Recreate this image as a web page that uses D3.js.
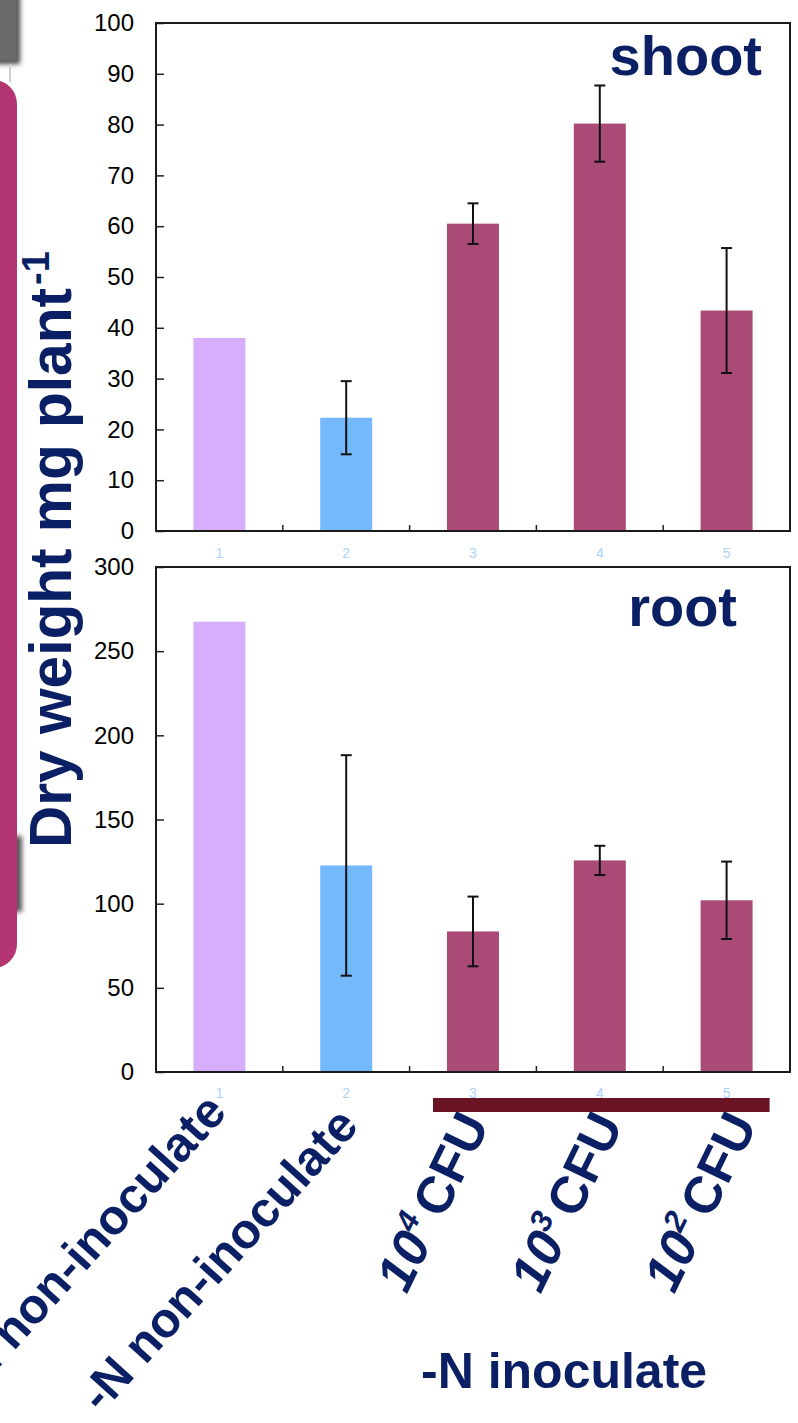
<!DOCTYPE html>
<html><head><meta charset="utf-8">
<script src="https://cdn.jsdelivr.net/npm/d3@7"></script>
<style>html,body{margin:0;padding:0;background:#fff;} svg{display:block;}</style>
</head><body>
<svg id="chart" width="798" height="1423"></svg>
<script>
// ---------------- data ----------------
const categories = ["1", "2", "3", "4", "5"];
const treatmentLabels = ["+N non-inoculate", "-N non-inoculate"];
const cfuExponents = ["4", "3", "2"];
const groupLabel = "-N inoculate";
const yTitle = "Dry weight mg plant";
const yTitleSup = "-1";

const shootValues = [38.0, 22.3, 60.5, 80.2, 43.4];
const shootErrors = [null, 7.2, 4.0, 7.5, 12.3];
const rootValues  = [267.5, 122.7, 83.5, 125.7, 102.0];
const rootErrors  = [null, 65.5, 20.7, 8.7, 23.0];

const shootTicks = [0, 10, 20, 30, 40, 50, 60, 70, 80, 90, 100];
const rootTicks  = [0, 50, 100, 150, 200, 250, 300];

// ---------------- styling ----------------
const NAVY = "#0b1f64";
const barColor = i => i === 0 ? "#d7aefd" : (i === 1 ? "#75b9fd" : "#aa4a77");
const FONT = "'Liberation Sans', Arial, sans-serif";

const svg = d3.select("#chart");
const defs = svg.append("defs");
const f = defs.append("filter").attr("id", "shadow").attr("x", "-50%").attr("y", "-50%").attr("width", "200%").attr("height", "200%");
f.append("feGaussianBlur").attr("stdDeviation", 2.5);
const f2 = defs.append("filter").attr("id", "soft");
f2.append("feGaussianBlur").attr("stdDeviation", 0.8);

// decorations on the left edge
svg.append("rect").attr("x", 6).attr("y", 836).attr("width", 16).attr("height", 76)
  .attr("fill", "#555").attr("filter", "url(#shadow)");
svg.append("rect").attr("x", -6).attr("y", -8).attr("width", 26).attr("height", 72)
  .attr("fill", "#444").attr("filter", "url(#shadow)");
svg.append("rect").attr("x", -6).attr("y", -8).attr("width", 23).attr("height", 69)
  .attr("fill", "#6a6a6a").attr("filter", "url(#soft)");
svg.append("line").attr("x1", 10).attr("x2", 10).attr("y1", 64).attr("y2", 82)
  .attr("stroke", "#cfcfcf").attr("stroke-width", 2);
svg.append("rect").attr("x", -30).attr("y", 80).attr("width", 47).attr("height", 888)
  .attr("rx", 24).attr("fill", "#b23571");

// ---------------- scales ----------------
const x = d3.scaleBand().domain(categories).range([156, 790])
  .paddingInner(0.59).paddingOuter(0.295);
const cx = c => x(c) + x.bandwidth() / 2;

function panel(cfg) {
  const y = d3.scaleLinear().domain([0, cfg.max]).range([cfg.bottom, cfg.top]);
  const g = svg.append("g");

  // bars
  g.selectAll("rect.bar").data(cfg.values).join("rect")
    .attr("class", "bar")
    .attr("x", (d, i) => x(categories[i]))
    .attr("width", x.bandwidth())
    .attr("y", d => y(d))
    .attr("height", d => y(0) - y(d))
    .attr("fill", (d, i) => barColor(i));

  // error bars
  const eb = cfg.values.map((v, i) => ({v, e: cfg.errors[i], c: categories[i]})).filter(d => d.e != null);
  const eg = g.selectAll("g.err").data(eb).join("g").attr("class", "err")
    .attr("stroke", "#111").attr("stroke-width", 2);
  eg.append("line").attr("x1", d => cx(d.c)).attr("x2", d => cx(d.c))
    .attr("y1", d => y(d.v + d.e)).attr("y2", d => y(d.v - d.e));
  eg.append("line").attr("x1", d => cx(d.c) - 5.5).attr("x2", d => cx(d.c) + 5.5)
    .attr("y1", d => y(d.v + d.e)).attr("y2", d => y(d.v + d.e));
  eg.append("line").attr("x1", d => cx(d.c) - 5.5).attr("x2", d => cx(d.c) + 5.5)
    .attr("y1", d => y(d.v - d.e)).attr("y2", d => y(d.v - d.e));

  // y axis (inward ticks)
  const ax = g.append("g").attr("transform", "translate(156,0)")
    .call(d3.axisLeft(y).tickValues(cfg.ticks).tickSize(-8).tickPadding(22));
  ax.select(".domain").remove();
  ax.selectAll(".tick line").attr("stroke", "#222").attr("stroke-width", 1.5);
  ax.selectAll(".tick text").attr("fill", "#000").attr("font-size", 24)
    .attr("font-family", FONT);

  // category separator ticks (inward)
  const seps = categories.slice(1).map(c => x(c) - x.step() * x.paddingInner() / 2);
  g.selectAll("line.sep").data(seps).join("line").attr("class", "sep")
    .attr("x1", d => d).attr("x2", d => d)
    .attr("y1", cfg.bottom).attr("y2", cfg.bottom - 6)
    .attr("stroke", "#222").attr("stroke-width", 1.5);

  // frame
  g.append("rect").attr("x", 156).attr("y", cfg.top)
    .attr("width", 634).attr("height", cfg.bottom - cfg.top)
    .attr("fill", "none").attr("stroke", "#1a1a1a").attr("stroke-width", 2);

  // small category numbers
  g.selectAll("text.num").data(categories).join("text").attr("class", "num")
    .attr("x", d => cx(d)).attr("y", cfg.numY)
    .attr("text-anchor", "middle").attr("font-size", 14).attr("font-family", FONT)
    .attr("fill", "#a9d3ff").text(d => d);

  // panel title
  g.append("text").attr("x", cfg.titleX).attr("y", cfg.titleY)
    .attr("text-anchor", "end").attr("font-size", 56).attr("font-weight", "bold")
    .attr("font-family", FONT).attr("fill", NAVY).text(cfg.title);
}

panel({top: 23, bottom: 531, max: 100, ticks: shootTicks, values: shootValues,
       errors: shootErrors, numY: 558, title: "shoot", titleX: 762, titleY: 75});
panel({top: 567, bottom: 1072, max: 300, ticks: rootTicks, values: rootValues,
       errors: rootErrors, numY: 1098, title: "root", titleX: 737, titleY: 626});

// y axis title
const yt = svg.append("g").attr("transform", "translate(71,848) rotate(-90)");
yt.append("text").attr("x", 0).attr("y", 0)
  .attr("font-size", 60).attr("font-weight", "bold").attr("font-family", FONT)
  .attr("fill", NAVY).attr("textLength", 560).attr("lengthAdjust", "spacingAndGlyphs")
  .text(yTitle);
yt.append("text").attr("x", 563).attr("y", -22)
  .attr("font-size", 38).attr("font-weight", "bold").attr("font-family", FONT)
  .attr("fill", NAVY).text(yTitleSup);

// red bracket bar under inoculated groups
const barL = x(categories[2]) - 14;
const barR = x(categories[4]) + x.bandwidth() + 17;
svg.append("rect").attr("x", barL).attr("y", 1098)
  .attr("width", barR - barL).attr("height", 14)
  .attr("fill", "#6a1322");

// rotated treatment labels
treatmentLabels.forEach((t, i) => {
  svg.append("text")
    .attr("transform", `translate(${cx(categories[i]) + 9 + 5 * i},${1113 + 14 * i}) rotate(-48)`)
    .attr("text-anchor", "end").attr("font-size", 49).attr("font-weight", "bold")
    .attr("font-family", FONT).attr("fill", NAVY).text(t);
});

// CFU labels
cfuExponents.forEach((e, i) => {
  const t = svg.append("text")
    .attr("transform", `translate(${cx(categories[i + 2]) + 17 + 7 * i},1124) rotate(-64)`)
    .attr("text-anchor", "end").attr("font-size", 52).attr("font-weight", "bold")
    .attr("font-family", FONT).attr("fill", NAVY);
  t.append("tspan").attr("font-style", "italic").text("10");
  t.append("tspan").attr("font-size", 31).attr("font-style", "italic").attr("dy", -21).text(e);
  t.append("tspan").attr("dy", 21).attr("dx", 8).text("CFU");
});

// group label
svg.append("text").attr("x", 421).attr("y", 1388)
  .attr("font-size", 50).attr("font-weight", "bold").attr("font-family", FONT)
  .attr("fill", NAVY).text(groupLabel);
</script>
</body></html>
